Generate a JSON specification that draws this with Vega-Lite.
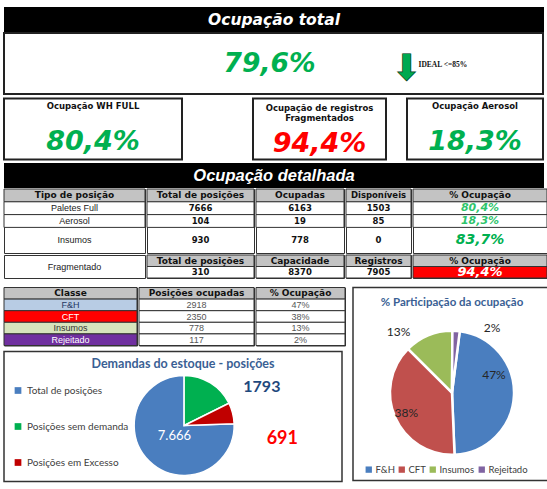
{
  "$schema": "https://vega.github.io/schema/vega-lite/v6.json",
  "padding": {"left": 3, "top": 7, "right": 0, "bottom": 0},
  "background": "white",
  "config": {
    "font": "Liberation Sans",
    "view": {"stroke": null},
    "locale": {"number": {"decimal": ",", "thousands": ".", "grouping": [3], "currency": ["R$ ", ""]}}
  },
  "datasets": {
    "detalhe": [
      {"coluna": "Tipo de posição", "linha": "cab", "texto": "Tipo de posição"},
      {"coluna": "Tipo de posição", "linha": "Paletes Full", "texto": "Paletes Full"},
      {"coluna": "Tipo de posição", "linha": "Aerosol", "texto": "Aerosol"},
      {"coluna": "Tipo de posição", "linha": "Insumos", "texto": "Insumos"},
      {"coluna": "Total de posições", "linha": "cab", "texto": "Total de posições"},
      {"coluna": "Total de posições", "linha": "Paletes Full", "texto": "7666"},
      {"coluna": "Total de posições", "linha": "Aerosol", "texto": "104"},
      {"coluna": "Total de posições", "linha": "Insumos", "texto": "930"},
      {"coluna": "Ocupadas", "linha": "cab", "texto": "Ocupadas"},
      {"coluna": "Ocupadas", "linha": "Paletes Full", "texto": "6163"},
      {"coluna": "Ocupadas", "linha": "Aerosol", "texto": "19"},
      {"coluna": "Ocupadas", "linha": "Insumos", "texto": "778"},
      {"coluna": "Disponíveis", "linha": "cab", "texto": "Disponíveis"},
      {"coluna": "Disponíveis", "linha": "Paletes Full", "texto": "1503"},
      {"coluna": "Disponíveis", "linha": "Aerosol", "texto": "85"},
      {"coluna": "Disponíveis", "linha": "Insumos", "texto": "0"},
      {"coluna": "% Ocupação", "linha": "cab", "texto": "% Ocupação"},
      {"coluna": "% Ocupação", "linha": "Paletes Full", "texto": "80,4%"},
      {"coluna": "% Ocupação", "linha": "Aerosol", "texto": "18,3%"},
      {"coluna": "% Ocupação", "linha": "Insumos", "texto": "83,7%"}
    ],
    "fragmentado": [
      {"coluna": "Total de posições", "linha": "cab", "texto": "Total de posições"},
      {"coluna": "Total de posições", "linha": "valor", "texto": "310"},
      {"coluna": "Capacidade", "linha": "cab", "texto": "Capacidade"},
      {"coluna": "Capacidade", "linha": "valor", "texto": "8370"},
      {"coluna": "Registros", "linha": "cab", "texto": "Registros"},
      {"coluna": "Registros", "linha": "valor", "texto": "7905"},
      {"coluna": "% Ocupação", "linha": "cab", "texto": "% Ocupação"},
      {"coluna": "% Ocupação", "linha": "valor", "texto": "94,4%"}
    ],
    "classes_tabela": [
      {"coluna": "Classe", "linha": "cab", "texto": "Classe"},
      {"coluna": "Classe", "linha": "F&H", "texto": "F&H"},
      {"coluna": "Classe", "linha": "CFT", "texto": "CFT"},
      {"coluna": "Classe", "linha": "Insumos", "texto": "Insumos"},
      {"coluna": "Classe", "linha": "Rejeitado", "texto": "Rejeitado"},
      {"coluna": "Posições ocupadas", "linha": "cab", "texto": "Posições ocupadas"},
      {"coluna": "Posições ocupadas", "linha": "F&H", "texto": "2918"},
      {"coluna": "Posições ocupadas", "linha": "CFT", "texto": "2350"},
      {"coluna": "Posições ocupadas", "linha": "Insumos", "texto": "778"},
      {"coluna": "Posições ocupadas", "linha": "Rejeitado", "texto": "117"},
      {"coluna": "% Ocupação", "linha": "cab", "texto": "% Ocupação"},
      {"coluna": "% Ocupação", "linha": "F&H", "texto": "47%"},
      {"coluna": "% Ocupação", "linha": "CFT", "texto": "38%"},
      {"coluna": "% Ocupação", "linha": "Insumos", "texto": "13%"},
      {"coluna": "% Ocupação", "linha": "Rejeitado", "texto": "2%"}
    ],
    "classes": [
      {"classe": "F&H", "posicoes": 2918, "pct": 0.47},
      {"classe": "CFT", "posicoes": 2350, "pct": 0.38},
      {"classe": "Insumos", "posicoes": 778, "pct": 0.13},
      {"classe": "Rejeitado", "posicoes": 117, "pct": 0.02}
    ],
    "demandas": [
      {"demanda": "Total de posições", "posicoes": 7666},
      {"demanda": "Posições sem demanda", "posicoes": 1793},
      {"demanda": "Posições em Excesso", "posicoes": 691}
    ]
  },
  "spacing": 2.5,
  "resolve": {"scale": {"color": "independent", "theta": "independent", "x": "independent", "y": "independent"}, "legend": {"color": "independent"}},
  "vconcat": [
    {
      "spacing": 0,
      "resolve": {"scale": {"y": "independent"}},
      "vconcat": [
        {
          "width": 540, "height": 25,
          "view": {"fill": "black"},
          "data": {"values": [{"titulo": "Ocupação total"}]},
          "mark": {"type": "text", "font": "DejaVu Sans", "fontSize": 15.5, "fontWeight": "bold", "fontStyle": "italic", "color": "white"},
          "encoding": {"text": {"field": "titulo", "type": "nominal"}}
        },
        {
          "width": 539, "height": 61,
          "view": {"fill": "white", "stroke": "#222", "strokeWidth": 2},
          "data": {"values": [{"indicador": "Ocupação total", "valor": 0.796, "meta": "IDEAL <=85%"}]},
          "layer": [
            {
              "mark": {"type": "text", "font": "DejaVu Sans", "fontSize": 26.5, "fontWeight": "bold", "fontStyle": "italic", "color": "#00b050", "dx": -4},
              "encoding": {"text": {"field": "valor", "type": "quantitative", "format": ".1%"}}
            },
            {
              "mark": {"type": "text", "text": "⬇", "font": "DejaVu Sans", "fontSize": 36, "color": "#00a94f", "stroke": "#0a3a1a", "strokeWidth": 0.7, "dx": 133, "dy": 5},
              "encoding": {}
            },
            {
              "mark": {"type": "text", "font": "Liberation Serif", "fontSize": 7.5, "fontWeight": "bold", "align": "left", "color": "#111", "dx": 145, "dy": 1},
              "encoding": {"text": {"field": "meta", "type": "nominal"}}
            }
          ]
        }
      ]
    },
    {
      "spacing": 69,
      "resolve": {"scale": {"y": "independent"}},
      "hconcat": [
        {
          "width": 178, "height": 61,
          "view": {"fill": "white", "stroke": "#222", "strokeWidth": 2},
          "data": {"values": [{"parte": "titulo", "texto": "Ocupação WH FULL"}, {"parte": "valor", "valor": 0.804}]},
          "encoding": {"y": {"field": "parte", "type": "nominal", "axis": null, "scale": {"type": "point", "domain": ["titulo", "valor"], "padding": 0.347, "align": 0.3}}},
          "layer": [
            {
              "transform": [{"filter": "datum.parte === 'titulo'"}],
              "mark": {"type": "text", "font": "DejaVu Sans", "fontSize": 8.5, "fontWeight": "bold", "color": "#111"},
              "encoding": {"text": {"field": "texto", "type": "nominal"}}
            },
            {
              "transform": [{"filter": "datum.parte === 'valor'"}],
              "mark": {"type": "text", "font": "DejaVu Sans", "fontSize": 27, "fontWeight": "bold", "fontStyle": "italic", "color": "#00b050"},
              "encoding": {"text": {"field": "valor", "type": "quantitative", "format": ".1%"}}
            }
          ]
        },
        {
          "spacing": 19,
          "resolve": {"scale": {"y": "independent"}},
          "hconcat": [
            {
              "width": 133, "height": 61,
              "view": {"fill": "white", "stroke": "#222", "strokeWidth": 2},
              "data": {"values": [{"parte": "titulo", "texto": "Ocupação de registros\nFragmentados"}, {"parte": "valor", "valor": 0.944}]},
              "encoding": {"y": {"field": "parte", "type": "nominal", "axis": null, "scale": {"type": "point", "domain": ["titulo", "valor"], "padding": 0.347, "align": 0.38}}},
              "layer": [
                {
                  "transform": [{"filter": "datum.parte === 'titulo'"}],
                  "mark": {"type": "text", "font": "DejaVu Sans", "fontSize": 8.5, "fontWeight": "bold", "lineBreak": "\n", "lineHeight": 10.5, "color": "#111"},
                  "encoding": {"text": {"field": "texto", "type": "nominal"}}
                },
                {
                  "transform": [{"filter": "datum.parte === 'valor'"}],
                  "mark": {"type": "text", "font": "DejaVu Sans", "fontSize": 27, "fontWeight": "bold", "fontStyle": "italic", "color": "#ff0000"},
                  "encoding": {"text": {"field": "valor", "type": "quantitative", "format": ".1%"}}
                }
              ]
            },
            {
              "width": 136, "height": 61,
              "view": {"fill": "white", "stroke": "#222", "strokeWidth": 2},
              "data": {"values": [{"parte": "titulo", "texto": "Ocupação Aerosol"}, {"parte": "valor", "valor": 0.183}]},
              "encoding": {"y": {"field": "parte", "type": "nominal", "axis": null, "scale": {"type": "point", "domain": ["titulo", "valor"], "padding": 0.347, "align": 0.3}}},
              "layer": [
                {
                  "transform": [{"filter": "datum.parte === 'titulo'"}],
                  "mark": {"type": "text", "font": "DejaVu Sans", "fontSize": 8.5, "fontWeight": "bold", "color": "#111"},
                  "encoding": {"text": {"field": "texto", "type": "nominal"}}
                },
                {
                  "transform": [{"filter": "datum.parte === 'valor'"}],
                  "mark": {"type": "text", "font": "DejaVu Sans", "fontSize": 27, "fontWeight": "bold", "fontStyle": "italic", "color": "#00b050"},
                  "encoding": {"text": {"field": "valor", "type": "quantitative", "format": ".1%"}}
                }
              ]
            }
          ]
        }
      ]
    },
    {
      "spacing": 6.5,
      "resolve": {"scale": {"color": "independent", "theta": "independent", "x": "independent", "y": "independent"}, "legend": {"color": "independent"}},
      "vconcat": [
        {
          "spacing": 0,
          "resolve": {"scale": {"color": "independent", "y": "independent"}},
          "vconcat": [
            {
              "width": 540, "height": 25,
              "view": {"fill": "black"},
              "data": {"values": [{"titulo": "Ocupação detalhada"}]},
              "mark": {"type": "text", "font": "Liberation Sans Narrow, Liberation Sans", "fontSize": 16.5, "fontWeight": "bold", "fontStyle": "italic", "color": "white"},
              "encoding": {"text": {"field": "titulo", "type": "nominal"}}
            },
            {
              "spacing": 0,
              "resolve": {"scale": {"color": "independent", "y": "independent"}},
              "hconcat": [
                {
                  "width": 141, "height": 64,
                  "view": {"fill": "white", "stroke": "#333", "strokeWidth": 1},
                  "data": {"name": "detalhe"},
                  "transform": [{"filter": {"field": "coluna", "equal": "Tipo de posição"}}],
                  "encoding": {"y": {"field": "linha", "type": "nominal", "axis": null, "scale": {"domain": ["cab", "Paletes Full", "Aerosol", "Insumos", "Insumos (2)"], "paddingInner": 0, "paddingOuter": 0}}},
                  "layer": [
                    {"transform": [{"filter": "datum.linha !== 'Insumos'"}], "mark": {"type": "rect", "stroke": "#333", "strokeWidth": 1}, "encoding": {"color": {"condition": {"test": "datum.linha === 'cab'", "value": "#c3c3c3"}, "value": "white"}}},
                    {"transform": [{"filter": "datum.linha === 'cab'"}], "mark": {"type": "text", "font": "DejaVu Sans", "fontSize": 9, "fontWeight": "bold", "color": "#111"}, "encoding": {"text": {"field": "texto", "type": "nominal"}}},
                    {"transform": [{"filter": "datum.linha === 'Paletes Full' || datum.linha === 'Aerosol'"}], "mark": {"type": "text", "fontSize": 9, "color": "#222"}, "encoding": {"text": {"field": "texto", "type": "nominal"}}},
                    {"transform": [{"filter": "datum.linha === 'Insumos'"}], "mark": {"type": "text", "fontSize": 9, "color": "#222"}, "encoding": {"y": {"field": "linha", "type": "nominal", "axis": null, "bandPosition": 1, "scale": {"domain": ["cab", "Paletes Full", "Aerosol", "Insumos", "Insumos (2)"], "paddingInner": 0, "paddingOuter": 0}}, "text": {"field": "texto", "type": "nominal"}}}
                  ]
                },
                {
                  "width": 107, "height": 64,
                  "view": {"fill": "white", "stroke": "#333", "strokeWidth": 1},
                  "data": {"name": "detalhe"},
                  "transform": [{"filter": {"field": "coluna", "equal": "Total de posições"}}],
                  "encoding": {"y": {"field": "linha", "type": "nominal", "axis": null, "scale": {"domain": ["cab", "Paletes Full", "Aerosol", "Insumos", "Insumos (2)"], "paddingInner": 0, "paddingOuter": 0}}},
                  "layer": [
                    {"transform": [{"filter": "datum.linha !== 'Insumos'"}], "mark": {"type": "rect", "stroke": "#333", "strokeWidth": 1}, "encoding": {"color": {"condition": {"test": "datum.linha === 'cab'", "value": "#c3c3c3"}, "value": "white"}}},
                    {"transform": [{"filter": "datum.linha === 'cab'"}], "mark": {"type": "text", "font": "DejaVu Sans", "fontSize": 9, "fontWeight": "bold", "color": "#111"}, "encoding": {"text": {"field": "texto", "type": "nominal"}}},
                    {"transform": [{"filter": "datum.linha === 'Paletes Full' || datum.linha === 'Aerosol'"}], "mark": {"type": "text", "font": "DejaVu Sans", "fontSize": 8.5, "fontWeight": "bold", "color": "#111"}, "encoding": {"text": {"field": "texto", "type": "nominal"}}},
                    {"transform": [{"filter": "datum.linha === 'Insumos'"}], "mark": {"type": "text", "font": "DejaVu Sans", "fontSize": 8.5, "fontWeight": "bold", "color": "#111"}, "encoding": {"y": {"field": "linha", "type": "nominal", "axis": null, "bandPosition": 1, "scale": {"domain": ["cab", "Paletes Full", "Aerosol", "Insumos", "Insumos (2)"], "paddingInner": 0, "paddingOuter": 0}}, "text": {"field": "texto", "type": "nominal"}}}
                  ]
                },
                {
                  "width": 88, "height": 64,
                  "view": {"fill": "white", "stroke": "#333", "strokeWidth": 1},
                  "data": {"name": "detalhe"},
                  "transform": [{"filter": {"field": "coluna", "equal": "Ocupadas"}}],
                  "encoding": {"y": {"field": "linha", "type": "nominal", "axis": null, "scale": {"domain": ["cab", "Paletes Full", "Aerosol", "Insumos", "Insumos (2)"], "paddingInner": 0, "paddingOuter": 0}}},
                  "layer": [
                    {"transform": [{"filter": "datum.linha !== 'Insumos'"}], "mark": {"type": "rect", "stroke": "#333", "strokeWidth": 1}, "encoding": {"color": {"condition": {"test": "datum.linha === 'cab'", "value": "#c3c3c3"}, "value": "white"}}},
                    {"transform": [{"filter": "datum.linha === 'cab'"}], "mark": {"type": "text", "font": "DejaVu Sans", "fontSize": 9, "fontWeight": "bold", "color": "#111"}, "encoding": {"text": {"field": "texto", "type": "nominal"}}},
                    {"transform": [{"filter": "datum.linha === 'Paletes Full' || datum.linha === 'Aerosol'"}], "mark": {"type": "text", "font": "DejaVu Sans", "fontSize": 8.5, "fontWeight": "bold", "color": "#111"}, "encoding": {"text": {"field": "texto", "type": "nominal"}}},
                    {"transform": [{"filter": "datum.linha === 'Insumos'"}], "mark": {"type": "text", "font": "DejaVu Sans", "fontSize": 8.5, "fontWeight": "bold", "color": "#111"}, "encoding": {"y": {"field": "linha", "type": "nominal", "axis": null, "bandPosition": 1, "scale": {"domain": ["cab", "Paletes Full", "Aerosol", "Insumos", "Insumos (2)"], "paddingInner": 0, "paddingOuter": 0}}, "text": {"field": "texto", "type": "nominal"}}}
                  ]
                },
                {
                  "width": 65, "height": 64,
                  "view": {"fill": "white", "stroke": "#333", "strokeWidth": 1},
                  "data": {"name": "detalhe"},
                  "transform": [{"filter": {"field": "coluna", "equal": "Disponíveis"}}],
                  "encoding": {"y": {"field": "linha", "type": "nominal", "axis": null, "scale": {"domain": ["cab", "Paletes Full", "Aerosol", "Insumos", "Insumos (2)"], "paddingInner": 0, "paddingOuter": 0}}},
                  "layer": [
                    {"transform": [{"filter": "datum.linha !== 'Insumos'"}], "mark": {"type": "rect", "stroke": "#333", "strokeWidth": 1}, "encoding": {"color": {"condition": {"test": "datum.linha === 'cab'", "value": "#c3c3c3"}, "value": "white"}}},
                    {"transform": [{"filter": "datum.linha === 'cab'"}], "mark": {"type": "text", "font": "DejaVu Sans", "fontSize": 8.5, "fontWeight": "bold", "color": "#111"}, "encoding": {"text": {"field": "texto", "type": "nominal"}}},
                    {"transform": [{"filter": "datum.linha === 'Paletes Full' || datum.linha === 'Aerosol'"}], "mark": {"type": "text", "font": "DejaVu Sans", "fontSize": 8.5, "fontWeight": "bold", "color": "#111"}, "encoding": {"text": {"field": "texto", "type": "nominal"}}},
                    {"transform": [{"filter": "datum.linha === 'Insumos'"}], "mark": {"type": "text", "font": "DejaVu Sans", "fontSize": 8.5, "fontWeight": "bold", "color": "#111"}, "encoding": {"y": {"field": "linha", "type": "nominal", "axis": null, "bandPosition": 1, "scale": {"domain": ["cab", "Paletes Full", "Aerosol", "Insumos", "Insumos (2)"], "paddingInner": 0, "paddingOuter": 0}}, "text": {"field": "texto", "type": "nominal"}}}
                  ]
                },
                {
                  "width": 134, "height": 64,
                  "view": {"fill": "white", "stroke": "#333", "strokeWidth": 1},
                  "data": {"name": "detalhe"},
                  "transform": [{"filter": {"field": "coluna", "equal": "% Ocupação"}}],
                  "encoding": {"y": {"field": "linha", "type": "nominal", "axis": null, "scale": {"domain": ["cab", "Paletes Full", "Aerosol", "Insumos", "Insumos (2)"], "paddingInner": 0, "paddingOuter": 0}}},
                  "layer": [
                    {"transform": [{"filter": "datum.linha !== 'Insumos'"}], "mark": {"type": "rect", "stroke": "#333", "strokeWidth": 1}, "encoding": {"color": {"condition": {"test": "datum.linha === 'cab'", "value": "#c3c3c3"}, "value": "white"}}},
                    {"transform": [{"filter": "datum.linha === 'cab'"}], "mark": {"type": "text", "font": "DejaVu Sans", "fontSize": 9, "fontWeight": "bold", "color": "#111"}, "encoding": {"text": {"field": "texto", "type": "nominal"}}},
                    {"transform": [{"filter": "datum.linha === 'Paletes Full' || datum.linha === 'Aerosol'"}], "mark": {"type": "text", "font": "DejaVu Sans", "fontSize": 11, "fontWeight": "bold", "fontStyle": "italic", "color": "#2ec46b"}, "encoding": {"text": {"field": "texto", "type": "nominal"}}},
                    {"transform": [{"filter": "datum.linha === 'Insumos'"}], "mark": {"type": "text", "font": "DejaVu Sans", "fontSize": 14, "fontWeight": "bold", "fontStyle": "italic", "color": "#00b050"}, "encoding": {"y": {"field": "linha", "type": "nominal", "axis": null, "bandPosition": 1, "scale": {"domain": ["cab", "Paletes Full", "Aerosol", "Insumos", "Insumos (2)"], "paddingInner": 0, "paddingOuter": 0}}, "text": {"field": "texto", "type": "nominal"}}}
                  ]
                }
              ]
            },
            {
              "spacing": 0,
              "resolve": {"scale": {"color": "independent", "y": "independent"}},
              "hconcat": [
                {
                  "width": 141, "height": 23,
                  "view": {"fill": "white", "stroke": "#333", "strokeWidth": 1},
                  "data": {"values": [{"tipo": "Fragmentado"}]},
                  "mark": {"type": "text", "fontSize": 9, "color": "#222"},
                  "encoding": {"text": {"field": "tipo", "type": "nominal"}}
                },
                {
                  "width": 107, "height": 23,
                  "view": {"fill": "white", "stroke": "#333", "strokeWidth": 1},
                  "data": {"name": "fragmentado"},
                  "transform": [{"filter": {"field": "coluna", "equal": "Total de posições"}}],
                  "encoding": {"y": {"field": "linha", "type": "nominal", "axis": null, "scale": {"domain": ["cab", "valor"], "paddingInner": 0, "paddingOuter": 0}}},
                  "layer": [
                    {"mark": {"type": "rect", "stroke": "#333", "strokeWidth": 1}, "encoding": {"color": {"condition": {"test": "datum.linha === 'cab'", "value": "#c3c3c3"}, "value": "white"}}},
                    {"transform": [{"filter": "datum.linha === 'cab'"}], "mark": {"type": "text", "font": "DejaVu Sans", "fontSize": 9, "fontWeight": "bold", "color": "#111"}, "encoding": {"text": {"field": "texto", "type": "nominal"}}},
                    {"transform": [{"filter": "datum.linha === 'valor'"}], "mark": {"type": "text", "font": "DejaVu Sans", "fontSize": 8.5, "fontWeight": "bold", "color": "#111"}, "encoding": {"text": {"field": "texto", "type": "nominal"}}}
                  ]
                },
                {
                  "width": 88, "height": 23,
                  "view": {"fill": "white", "stroke": "#333", "strokeWidth": 1},
                  "data": {"name": "fragmentado"},
                  "transform": [{"filter": {"field": "coluna", "equal": "Capacidade"}}],
                  "encoding": {"y": {"field": "linha", "type": "nominal", "axis": null, "scale": {"domain": ["cab", "valor"], "paddingInner": 0, "paddingOuter": 0}}},
                  "layer": [
                    {"mark": {"type": "rect", "stroke": "#333", "strokeWidth": 1}, "encoding": {"color": {"condition": {"test": "datum.linha === 'cab'", "value": "#c3c3c3"}, "value": "white"}}},
                    {"transform": [{"filter": "datum.linha === 'cab'"}], "mark": {"type": "text", "font": "DejaVu Sans", "fontSize": 9, "fontWeight": "bold", "color": "#111"}, "encoding": {"text": {"field": "texto", "type": "nominal"}}},
                    {"transform": [{"filter": "datum.linha === 'valor'"}], "mark": {"type": "text", "font": "DejaVu Sans", "fontSize": 8.5, "fontWeight": "bold", "color": "#111"}, "encoding": {"text": {"field": "texto", "type": "nominal"}}}
                  ]
                },
                {
                  "width": 65, "height": 23,
                  "view": {"fill": "white", "stroke": "#333", "strokeWidth": 1},
                  "data": {"name": "fragmentado"},
                  "transform": [{"filter": {"field": "coluna", "equal": "Registros"}}],
                  "encoding": {"y": {"field": "linha", "type": "nominal", "axis": null, "scale": {"domain": ["cab", "valor"], "paddingInner": 0, "paddingOuter": 0}}},
                  "layer": [
                    {"mark": {"type": "rect", "stroke": "#333", "strokeWidth": 1}, "encoding": {"color": {"condition": {"test": "datum.linha === 'cab'", "value": "#c3c3c3"}, "value": "white"}}},
                    {"transform": [{"filter": "datum.linha === 'cab'"}], "mark": {"type": "text", "font": "DejaVu Sans", "fontSize": 9, "fontWeight": "bold", "color": "#111"}, "encoding": {"text": {"field": "texto", "type": "nominal"}}},
                    {"transform": [{"filter": "datum.linha === 'valor'"}], "mark": {"type": "text", "font": "DejaVu Sans", "fontSize": 8.5, "fontWeight": "bold", "color": "#111"}, "encoding": {"text": {"field": "texto", "type": "nominal"}}}
                  ]
                },
                {
                  "width": 134, "height": 23,
                  "view": {"fill": "white", "stroke": "#333", "strokeWidth": 1},
                  "data": {"name": "fragmentado"},
                  "transform": [{"filter": {"field": "coluna", "equal": "% Ocupação"}}],
                  "encoding": {"y": {"field": "linha", "type": "nominal", "axis": null, "scale": {"domain": ["cab", "valor"], "paddingInner": 0, "paddingOuter": 0}}},
                  "layer": [
                    {"mark": {"type": "rect", "stroke": "#333", "strokeWidth": 1}, "encoding": {"color": {"condition": {"test": "datum.linha === 'cab'", "value": "#c3c3c3"}, "value": "#ff0000"}}},
                    {"transform": [{"filter": "datum.linha === 'cab'"}], "mark": {"type": "text", "font": "DejaVu Sans", "fontSize": 9, "fontWeight": "bold", "color": "#111"}, "encoding": {"text": {"field": "texto", "type": "nominal"}}},
                    {"transform": [{"filter": "datum.linha === 'valor'"}], "mark": {"type": "text", "font": "DejaVu Sans", "fontSize": 13, "fontWeight": "bold", "fontStyle": "italic", "color": "white"}, "encoding": {"text": {"field": "texto", "type": "nominal"}}}
                  ]
                }
              ]
            }
          ]
        },
        {
          "spacing": 1,
          "resolve": {"scale": {"color": "independent", "theta": "independent", "x": "independent", "y": "independent"}, "legend": {"color": "independent"}},
          "hconcat": [
            {
              "spacing": 4,
              "resolve": {"scale": {"color": "independent", "theta": "independent", "x": "independent", "y": "independent"}, "legend": {"color": "independent"}},
              "vconcat": [
                {
                  "spacing": 0,
                  "resolve": {"scale": {"color": "independent", "y": "independent"}},
                  "hconcat": [
                    {
                      "width": 133, "height": 58,
                      "view": {"fill": "white", "stroke": "#333", "strokeWidth": 1},
                      "data": {"name": "classes_tabela"},
                      "transform": [{"filter": {"field": "coluna", "equal": "Classe"}}],
                      "encoding": {"y": {"field": "linha", "type": "nominal", "axis": null, "scale": {"domain": ["cab", "F&H", "CFT", "Insumos", "Rejeitado"], "paddingInner": 0, "paddingOuter": 0}}},
                      "layer": [
                        {"mark": {"type": "rect", "stroke": "#333", "strokeWidth": 1}, "encoding": {"color": {"condition": [{"test": "datum.linha === 'cab'", "value": "#c3c3c3"}, {"test": "datum.linha === 'F&H'", "value": "#b8cce4"}, {"test": "datum.linha === 'CFT'", "value": "#ff0000"}, {"test": "datum.linha === 'Insumos'", "value": "#d7e4bd"}, {"test": "datum.linha === 'Rejeitado'", "value": "#7030a0"}], "value": "white"}}},
                        {"transform": [{"filter": "datum.linha === 'cab'"}], "mark": {"type": "text", "font": "DejaVu Sans", "fontSize": 9, "fontWeight": "bold", "color": "#111"}, "encoding": {"text": {"field": "texto", "type": "nominal"}}},
                        {"transform": [{"filter": "datum.linha !== 'cab'"}], "mark": {"type": "text", "fontSize": 9}, "encoding": {"text": {"field": "texto", "type": "nominal"}, "color": {"condition": [{"test": "datum.linha === 'CFT' || datum.linha === 'Rejeitado'", "value": "white"}, {"test": "datum.linha === 'F&H'", "value": "#1f3864"}], "value": "#333"}}}
                      ]
                    },
                    {
                      "width": 115, "height": 58,
                      "view": {"fill": "white", "stroke": "#333", "strokeWidth": 1},
                      "data": {"name": "classes_tabela"},
                      "transform": [{"filter": {"field": "coluna", "equal": "Posições ocupadas"}}],
                      "encoding": {"y": {"field": "linha", "type": "nominal", "axis": null, "scale": {"domain": ["cab", "F&H", "CFT", "Insumos", "Rejeitado"], "paddingInner": 0, "paddingOuter": 0}}},
                      "layer": [
                        {"mark": {"type": "rect", "stroke": "#333", "strokeWidth": 1}, "encoding": {"color": {"condition": {"test": "datum.linha === 'cab'", "value": "#c3c3c3"}, "value": "white"}}},
                        {"transform": [{"filter": "datum.linha === 'cab'"}], "mark": {"type": "text", "font": "DejaVu Sans", "fontSize": 9, "fontWeight": "bold", "color": "#111"}, "encoding": {"text": {"field": "texto", "type": "nominal"}}},
                        {"transform": [{"filter": "datum.linha !== 'cab'"}], "mark": {"type": "text", "fontSize": 9, "color": "#555"}, "encoding": {"text": {"field": "texto", "type": "nominal"}}}
                      ]
                    },
                    {
                      "width": 89, "height": 58,
                      "view": {"fill": "white", "stroke": "#333", "strokeWidth": 1},
                      "data": {"name": "classes_tabela"},
                      "transform": [{"filter": {"field": "coluna", "equal": "% Ocupação"}}],
                      "encoding": {"y": {"field": "linha", "type": "nominal", "axis": null, "scale": {"domain": ["cab", "F&H", "CFT", "Insumos", "Rejeitado"], "paddingInner": 0, "paddingOuter": 0}}},
                      "layer": [
                        {"mark": {"type": "rect", "stroke": "#333", "strokeWidth": 1}, "encoding": {"color": {"condition": {"test": "datum.linha === 'cab'", "value": "#c3c3c3"}, "value": "white"}}},
                        {"transform": [{"filter": "datum.linha === 'cab'"}], "mark": {"type": "text", "font": "DejaVu Sans", "fontSize": 9, "fontWeight": "bold", "color": "#111"}, "encoding": {"text": {"field": "texto", "type": "nominal"}}},
                        {"transform": [{"filter": "datum.linha !== 'cab'"}], "mark": {"type": "text", "fontSize": 9, "color": "#555"}, "encoding": {"text": {"field": "texto", "type": "nominal"}}}
                      ]
                    }
                  ]
                },
                {
                  "width": 338, "height": 130,
                  "view": {"fill": "white", "stroke": "#333", "strokeWidth": 1.5},
                  "title": {"text": "Demandas do estoque - posições", "anchor": "middle", "frame": "group", "offset": -19, "dx": 10, "font": "Lato", "fontSize": 12.5, "fontWeight": "bold", "color": "#3a5f94"},
                  "data": {"name": "demandas"},
                  "encoding": {
                    "x": {"datum": 0.533, "type": "quantitative", "scale": {"domain": [0, 1]}, "axis": null},
                    "y": {"datum": 0.431, "type": "quantitative", "scale": {"domain": [0, 1]}, "axis": null},
                    "theta": {"field": "posicoes", "type": "quantitative", "stack": true, "scale": {"range": [-4.7454, 1.5378]}},
                    "order": {"field": "posicoes", "type": "quantitative", "sort": "descending"},
                    "color": {
                      "field": "demanda", "type": "nominal",
                      "scale": {"domain": ["Total de posições", "Posições sem demanda", "Posições em Excesso"], "range": ["#4a7ebf", "#00b050", "#c00000"]},
                      "legend": {"title": null, "orient": "none", "legendX": 9, "legendY": 34, "direction": "vertical", "rowPadding": 26, "symbolType": "square", "symbolSize": 45, "symbolStrokeWidth": 0, "labelFont": "Lato", "labelFontSize": 10, "labelColor": "#404040"}
                    }
                  },
                  "layer": [
                    {"mark": {"type": "arc", "outerRadius": 50, "stroke": "white", "strokeWidth": 1.5}},
                    {"mark": {"type": "text", "radius": 14, "font": "Lato", "fontSize": 13}, "encoding": {"text": {"field": "posicoes", "type": "quantitative", "format": ",d"}, "color": {"value": "white"}, "opacity": {"condition": {"test": "datum.demanda === 'Total de posições'", "value": 1}, "value": 0}}},
                    {"mark": {"type": "text", "radius": 45, "dx": 54, "font": "Lato", "fontSize": 16, "fontWeight": "bold"}, "encoding": {"text": {"field": "posicoes", "type": "quantitative", "format": "d"}, "color": {"value": "#1f497d"}, "opacity": {"condition": {"test": "datum.demanda === 'Posições sem demanda'", "value": 1}, "value": 0}}},
                    {"mark": {"type": "text", "radius": 60, "dx": 40, "dy": 28, "font": "Lato", "fontSize": 18, "fontWeight": "bold"}, "encoding": {"text": {"field": "posicoes", "type": "quantitative", "format": "d"}, "color": {"value": "#ff0000"}, "opacity": {"condition": {"test": "datum.demanda === 'Posições em Excesso'", "value": 1}, "value": 0}}}
                  ]
                }
              ]
            },
            {
              "width": 198, "height": 193,
              "view": {"fill": "white", "stroke": "#333", "strokeWidth": 1.5},
              "title": {"text": "% Participação da ocupação", "anchor": "middle", "frame": "group", "offset": -21, "font": "Lato", "fontSize": 11.5, "fontWeight": "bold", "color": "#3a5f94"},
              "data": {"name": "classes"},
              "encoding": {
                "y": {"datum": 0.455, "type": "quantitative", "scale": {"domain": [0, 1]}, "axis": null},
                "theta": {"field": "posicoes", "type": "quantitative", "stack": true, "scale": {"range": [0.1257, 6.4089]}},
                "order": {"field": "posicoes", "type": "quantitative", "sort": "descending"},
                "color": {
                  "field": "classe", "type": "nominal",
                  "scale": {"domain": ["F&H", "CFT", "Insumos", "Rejeitado"], "range": ["#4a7ebf", "#c0504d", "#9bbb59", "#8064a2"]},
                  "legend": {"title": null, "orient": "none", "legendX": 11, "legendY": 177, "direction": "horizontal", "columns": 4, "columnPadding": 2, "symbolType": "square", "symbolSize": 40, "symbolStrokeWidth": 0, "labelFont": "Lato", "labelFontSize": 9.5, "labelColor": "#404040", "labelOffset": 2}
                }
              },
              "layer": [
                {"mark": {"type": "arc", "outerRadius": 62, "stroke": "white", "strokeWidth": 2.5}},
                {"mark": {"type": "text", "radius": 45, "dx": -3, "dy": -20, "font": "Lato", "fontSize": 12}, "encoding": {"text": {"field": "pct", "type": "quantitative", "format": ".0%"}, "color": {"value": "#262626"}, "opacity": {"condition": {"test": "datum.classe === 'F&H'", "value": 1}, "value": 0}}},
                {"mark": {"type": "text", "radius": 50, "font": "Lato", "fontSize": 12}, "encoding": {"text": {"field": "pct", "type": "quantitative", "format": ".0%"}, "color": {"value": "#262626"}, "opacity": {"condition": {"test": "datum.classe === 'CFT'", "value": 1}, "value": 0}}},
                {"mark": {"type": "text", "radius": 72, "dx": -26, "dy": 6, "font": "Lato", "fontSize": 12}, "encoding": {"text": {"field": "pct", "type": "quantitative", "format": ".0%"}, "color": {"value": "#262626"}, "opacity": {"condition": {"test": "datum.classe === 'Insumos'", "value": 1}, "value": 0}}},
                {"mark": {"type": "text", "radius": 78, "dx": 35, "dy": 13, "font": "Lato", "fontSize": 12}, "encoding": {"text": {"field": "pct", "type": "quantitative", "format": ".0%"}, "color": {"value": "#262626"}, "opacity": {"condition": {"test": "datum.classe === 'Rejeitado'", "value": 1}, "value": 0}}}
              ]
            }
          ]
        }
      ]
    }
  ]
}
